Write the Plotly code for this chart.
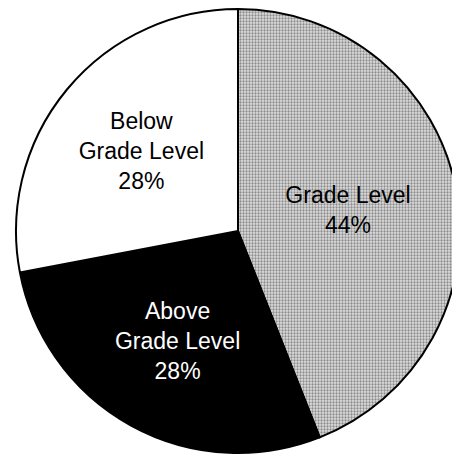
import plotly.graph_objects as go

labels = ["Grade Level", "Above Grade Level", "Below Grade Level"]
display_text = ["Grade Level", "Above<br>Grade Level", "Below<br>Grade Level"]
values = [44, 28, 28]
colors = ["#bcbcbc", "#000000", "#ffffff"]
text_colors = ["#000000", "#ffffff", "#000000"]

W, H = 460, 458
# page body has an 8px margin, so compensate
off = 8
cx, cy, r = 238 - off, 231 - off, 222

fig = go.Figure(go.Pie(
    labels=labels,
    values=values,
    text=display_text,
    texttemplate="%{text}<br>%{percent:.0%}",
    textinfo="text",
    textposition="inside",
    insidetextorientation="horizontal",
    sort=False,
    direction="clockwise",
    rotation=0,
    marker=dict(
        colors=colors,
        line=dict(color="#000000", width=2),
        pattern=dict(shape=[".", "", ""], fgcolor="#3a3a3a", bgcolor="#dedede",
                     size=3, solidity=0.45, fillmode="overlay"),
    ),
    textfont=dict(family="Liberation Sans, Arial, sans-serif", size=23, color=text_colors),
    hoverinfo="label+percent",
    domain=dict(x=[(cx - r) / W, (cx + r) / W], y=[1 - (cy + r) / H, 1 - (cy - r) / H]),
))

fig.update_layout(
    width=W, height=H,
    margin=dict(l=0, r=0, t=0, b=0),
    paper_bgcolor="white",
    plot_bgcolor="white",
    showlegend=False,
)

fig.write_html("out.html")
